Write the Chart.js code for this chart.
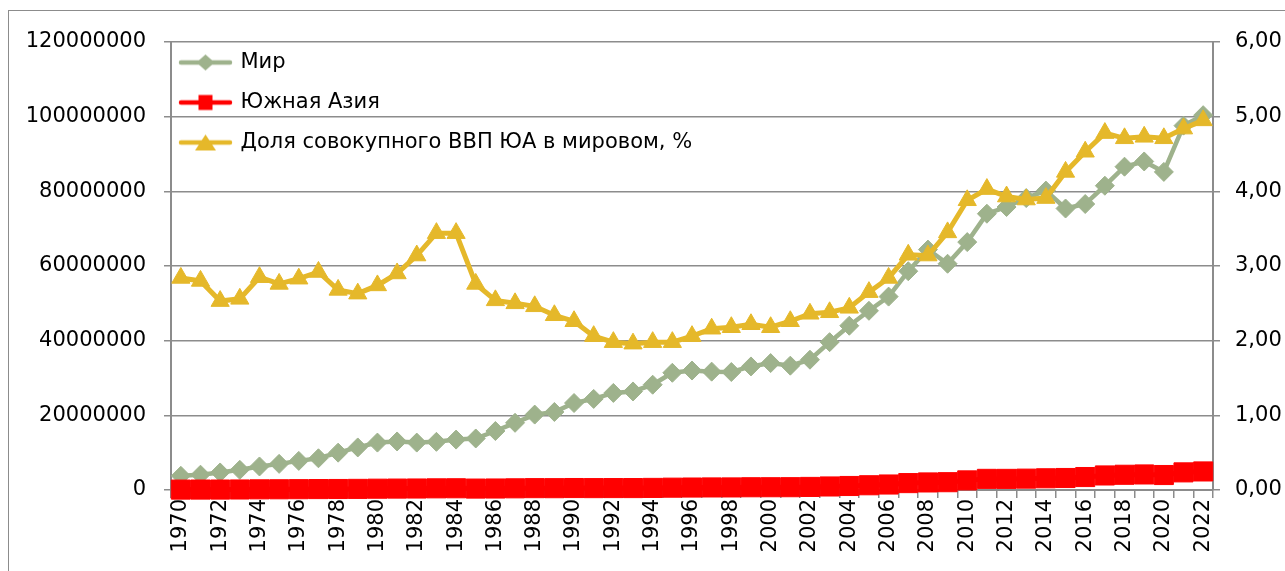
<!DOCTYPE html>
<html>
<head>
<meta charset="utf-8">
<title>ВВП Мир / Южная Азия</title>
<script src="https://cdn.jsdelivr.net/npm/chart.js@4.4.0/dist/chart.umd.min.js"></script>
<style>
    html, body { margin: 0; padding: 0; background: #fff; overflow: hidden; }
    #wrap { position: relative; width: 1285px; height: 571px; overflow: hidden; }
    #frame { position: absolute; left: 8px; top: 10px; width: 1300px; height: 600px;
             border-left: 1px solid #8c8c8c; border-top: 1px solid #8c8c8c; pointer-events: none; }
</style>
</head>
<body>
<div id="wrap">
    <canvas id="gdpChart" width="1285" height="571"></canvas>
    <div id="frame"></div>
</div>
<script>
const years = ['1970', '1971', '1972', '1973', '1974', '1975', '1976', '1977', '1978', '1979',
    '1980', '1981', '1982', '1983', '1984', '1985', '1986', '1987', '1988', '1989',
    '1990', '1991', '1992', '1993', '1994', '1995', '1996', '1997', '1998', '1999',
    '2000', '2001', '2002', '2003', '2004', '2005', '2006', '2007', '2008', '2009',
    '2010', '2011', '2012', '2013', '2014', '2015', '2016', '2017', '2018', '2019',
    '2020', '2021', '2022'];

// Мир, левая ось
const worldGdp = [3800000, 4100000, 4700000, 5400000, 6300000, 7000000, 7800000, 8500000, 10000000, 11400000,
    12700000, 13000000, 12700000, 12900000, 13500000, 13800000, 15800000, 18000000, 20200000, 20900000,
    23300000, 24400000, 26000000, 26400000, 28200000, 31400000, 32000000, 31700000, 31600000, 33100000,
    34000000, 33300000, 34900000, 39600000, 44000000, 48000000, 51800000, 58600000, 64400000, 60600000,
    66400000, 74000000, 75800000, 78200000, 80200000, 75400000, 76600000, 81500000, 86600000, 88000000,
    85200000, 97600000, 100400000];

// Южная Азия, левая ось
const southAsiaGdp = [108000, 115000, 119000, 138000, 180000, 193000, 221000, 248000, 268000, 300000,
    348000, 377000, 399000, 444000, 464000, 381000, 401000, 450000, 497000, 489000,
    527000, 503000, 515000, 517000, 558000, 622000, 659000, 685000, 689000, 735000,
    741000, 753000, 824000, 942000, 1074000, 1272000, 1471000, 1846000, 2022000, 2091000,
    2576000, 2982000, 2979000, 3042000, 3136000, 3212000, 3470000, 3896000, 4079000, 4162000,
    4013000, 4724000, 4970000];

// Доля ЮА в мировом ВВП, %, правая ось
const shareOfWorld = [2.84, 2.80, 2.53, 2.56, 2.85, 2.76, 2.83, 2.92, 2.68, 2.63,
    2.74, 2.90, 3.14, 3.44, 3.44, 2.76, 2.54, 2.50, 2.46, 2.34,
    2.26, 2.06, 1.98, 1.96, 1.98, 1.98, 2.06, 2.16, 2.18, 2.22,
    2.18, 2.26, 2.36, 2.38, 2.44, 2.65, 2.84, 3.15, 3.14, 3.45,
    3.88, 4.03, 3.93, 3.89, 3.91, 4.26, 4.53, 4.78, 4.71, 4.73,
    4.71, 4.84, 4.95];

const leftTickLabels = ['0', '20000000', '40000000', '60000000', '80000000', '100000000', '120000000'];
const rightTickLabels = ['0,00', '1,00', '2,00', '3,00', '4,00', '5,00', '6,00'];

const GREEN = '#9EB28C';
const RED = '#FF0000';
const YELLOW = '#E5B82A';
const GRID = '#8c8c8c';

Chart.defaults.font.family = "'DejaVu Sans', sans-serif";
Chart.defaults.font.size = 21;
Chart.defaults.color = '#000';

// line + marker sample for the legend
function legendIcon(color, shape) {
    const c = document.createElement('canvas');
    c.width = 55;
    c.height = 22;
    const g = c.getContext('2d');
    g.strokeStyle = color;
    g.fillStyle = color;
    g.lineWidth = 4.5;
    g.lineCap = 'round';
    g.beginPath();
    g.moveTo(3, 11);
    g.lineTo(52, 11);
    g.stroke();
    const cx = 27.5, cy = 11;
    g.beginPath();
    if (shape === 'diamond') {
        g.moveTo(cx, cy - 8); g.lineTo(cx + 9, cy); g.lineTo(cx, cy + 8); g.lineTo(cx - 9, cy);
    } else if (shape === 'square') {
        g.rect(cx - 7, cy - 7.5, 14, 15);
    } else {
        g.moveTo(cx, cy - 8); g.lineTo(cx + 10.5, cy + 8); g.lineTo(cx - 10.5, cy + 8);
    }
    g.closePath();
    g.fill();
    return c;
}
const legendIcons = [legendIcon(GREEN, 'diamond'), legendIcon(RED, 'square'), legendIcon(YELLOW, 'triangle')];

var ctx = document.getElementById('gdpChart');
var gdpChart = new Chart(ctx, {
    type: 'line',
    data: {
        labels: years,
        datasets: [
            {
                label: 'Мир',
                data: worldGdp,
                yAxisID: 'y',
                order: 3,
                borderColor: GREEN,
                backgroundColor: GREEN,
                borderWidth: 4.5,
                pointStyle: 'rectRot',
                pointRadius: 9.5,
                pointBorderWidth: 1,
                pointBackgroundColor: GREEN,
                pointBorderColor: GREEN,
            },
            {
                label: 'Южная Азия',
                data: southAsiaGdp,
                yAxisID: 'y',
                order: 2,
                borderColor: RED,
                backgroundColor: RED,
                borderWidth: 5,
                pointStyle: 'rect',
                pointRadius: 13.5,
                pointBorderWidth: 1,
                pointBackgroundColor: RED,
                pointBorderColor: RED,
            },
            {
                label: 'Доля совокупного ВВП ЮА в мировом, %',
                data: shareOfWorld,
                yAxisID: 'y1',
                order: 1,
                borderColor: YELLOW,
                backgroundColor: YELLOW,
                borderWidth: 5,
                pointStyle: 'triangle',
                pointRadius: 10.5,
                pointBorderWidth: 1,
                pointBackgroundColor: YELLOW,
                pointBorderColor: YELLOW,
            },
        ]
    },
    options: {
        responsive: false,
        animation: false,
        layout: {
            padding: { top: 42, left: 0, right: 0, bottom: 0 },
        },
        elements: {
            line: { tension: 0 },
        },
        datasets: {
            line: { clip: false },
        },
        plugins: {
            tooltip: { enabled: false },
            legend: {
                position: 'chartArea',
                align: 'start',
                // empty title only pushes the legend down to the plot top
                title: {
                    display: true,
                    text: ' ',
                    font: { size: 10, lineHeight: 1.2 },
                    padding: { top: 30, bottom: 0 },
                },
                labels: {
                    usePointStyle: true,
                    pointStyleWidth: 49,
                    padding: 10,
                    color: '#000',
                    font: { size: 21, lineHeight: '30px' },
                    generateLabels: function (chart) {
                        return chart.data.datasets.map(function (ds, i) {
                            return {
                                text: [ds.label],
                                pointStyle: legendIcons[i],
                                datasetIndex: i,
                                fontColor: '#000',
                                fillStyle: ds.borderColor,
                                strokeStyle: ds.borderColor,
                                lineWidth: 0,
                                hidden: false,
                            };
                        });
                    },
                },
            },
        },
        scales: {
            x: {
                offset: true,
                grid: {
                    offset: true,
                    drawOnChartArea: false,
                    tickLength: 8,
                    color: GRID,
                    lineWidth: 1.5,
                },
                border: { color: GRID, width: 2 },
                ticks: {
                    autoSkip: false,
                    minRotation: 90,
                    maxRotation: 90,
                    padding: 1,
                    callback: function (value, index) {
                        return index % 2 === 0 ? years[index] : '';
                    },
                },
                afterFit: function (scale) { scale.height = 81; },
            },
            y: {
                position: 'left',
                min: 0,
                max: 120000000,
                ticks: {
                    stepSize: 20000000,
                    padding: 18,
                    callback: function (value, index) { return leftTickLabels[index]; },
                },
                grid: {
                    color: GRID,
                    lineWidth: 1.5,
                    tickLength: 7,
                },
                border: { color: GRID, width: 2 },
                afterFit: function (scale) { scale.width = 171; },
            },
            y1: {
                position: 'right',
                min: 0,
                max: 6,
                ticks: {
                    stepSize: 1,
                    padding: 15,
                    callback: function (value, index) { return rightTickLabels[index]; },
                },
                grid: {
                    drawOnChartArea: false,
                    color: GRID,
                    lineWidth: 1.5,
                    tickLength: 7,
                },
                border: { color: GRID, width: 2 },
                afterFit: function (scale) { scale.width = 72; },
            },
        },
    },
});
</script>
</body>
</html>
